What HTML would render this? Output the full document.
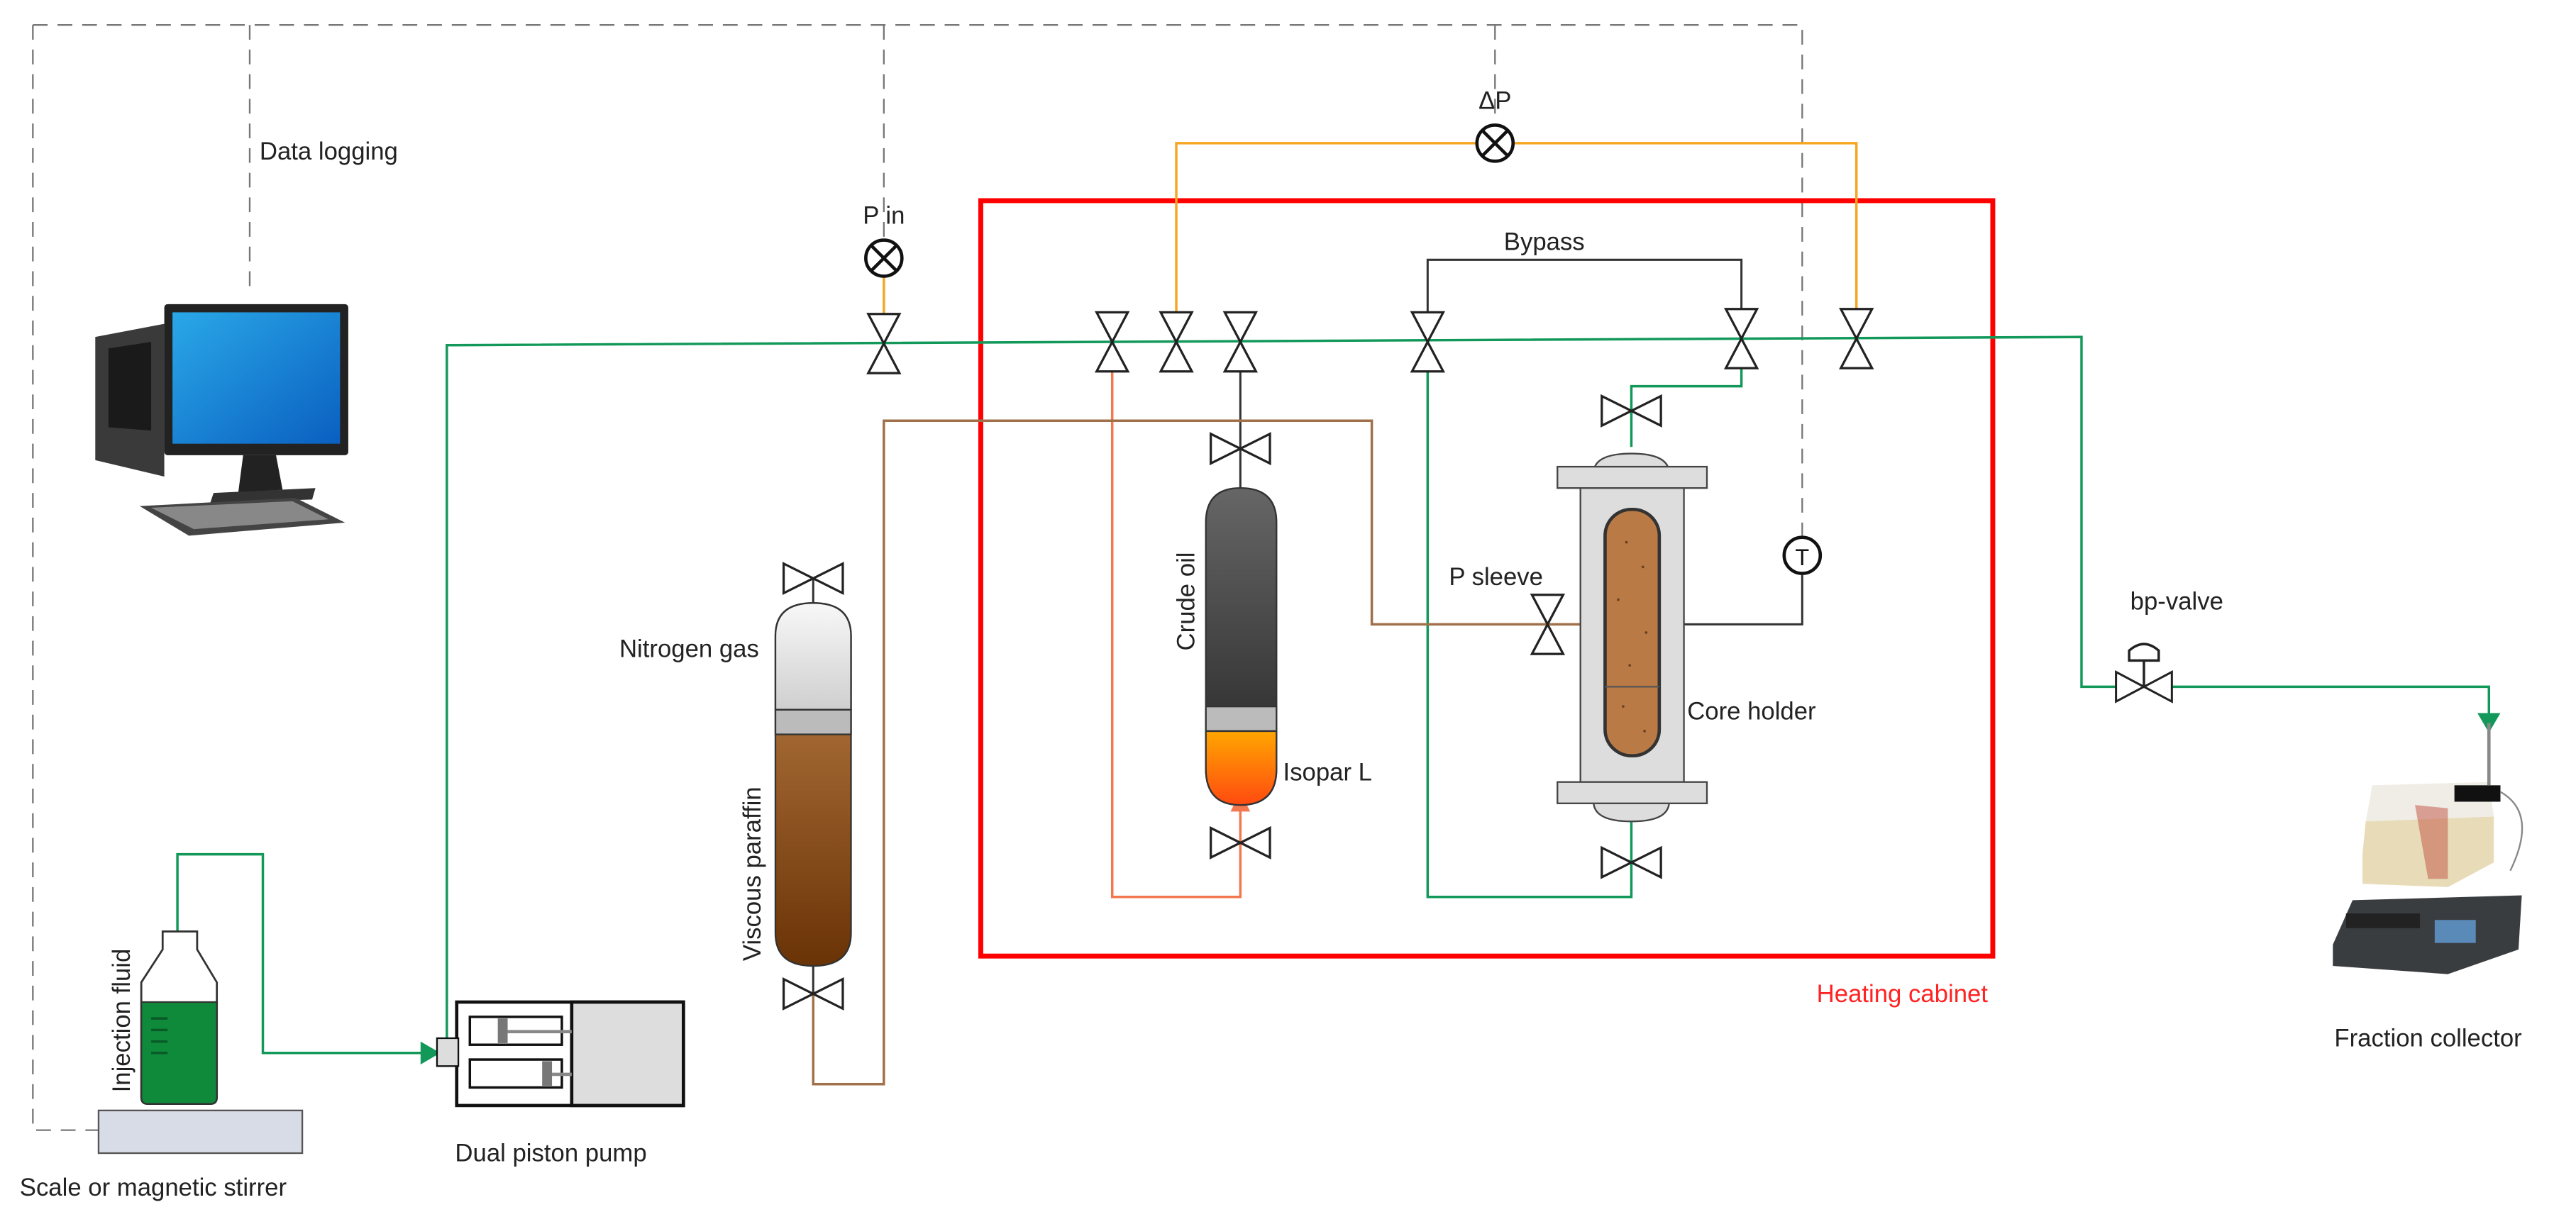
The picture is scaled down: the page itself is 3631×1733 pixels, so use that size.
<!DOCTYPE html>
<html><head><meta charset="utf-8"><style>html,body{margin:0;padding:0;background:#fff}svg{display:block}</style></head>
<body>
<svg width="3631" height="1733" viewBox="0 0 1568 748" xmlns="http://www.w3.org/2000/svg" font-family="Liberation Sans, sans-serif" font-size="15">
<defs>
<linearGradient id="dark" x1="0" y1="0" x2="0" y2="1"><stop offset="0" stop-color="#666"/><stop offset="1" stop-color="#222"/></linearGradient>
<linearGradient id="iso" x1="0" y1="0" x2="0" y2="1"><stop offset="0" stop-color="#ffa600"/><stop offset="1" stop-color="#ff4a10"/></linearGradient>
<linearGradient id="gas" x1="0" y1="0" x2="0" y2="1"><stop offset="0" stop-color="#f8f8f8"/><stop offset="1" stop-color="#cfcfcf"/></linearGradient>
<linearGradient id="par" x1="0" y1="0" x2="0" y2="1"><stop offset="0" stop-color="#c0834a"/><stop offset="1" stop-color="#6a3306"/></linearGradient>
<linearGradient id="scr" x1="0" y1="0" x2="1" y2="1"><stop offset="0" stop-color="#2aa8e8"/><stop offset="1" stop-color="#0a5fc0"/></linearGradient>
<g id="vv"><path d="M-9.5,-18 L9.5,-18 L0,0 Z M-9.5,18 L9.5,18 L0,0 Z" fill="#fff" stroke="#222" stroke-width="1.4"/></g>
<g id="vh"><path d="M-18,-9 L-18,9 L0,0 Z M18,-9 L18,9 L0,0 Z" fill="#fff" stroke="#222" stroke-width="1.4"/></g>
</defs>

<g stroke="#777" stroke-width="1" fill="none" stroke-dasharray="9,6">
<path d="M20,15 H1097 V326"/><path d="M20,15 V688 H60"/>
<path d="M152,15 V180"/><path d="M538,15 V145"/><path d="M910,15 V75"/>
</g>
<text x="158" y="97" fill="#222">Data logging</text>

<g>
<path d="M58,205 L100,197 L100,290 L58,280 Z" fill="#3a3a3a"/>
<path d="M66,212 L92,208 L92,262 L66,260 Z" fill="#1a1a1a"/>
<rect x="100" y="185" width="112" height="92" fill="#222" rx="2"/>
<rect x="105" y="190" width="102" height="80" fill="url(#scr)"/>
<path d="M148,277 L168,277 L172,298 L145,300 Z" fill="#222"/>
<path d="M130,300 L192,297 L190,304 L128,306 Z" fill="#333"/>
<path d="M85,308 L180,303 L210,318 L115,326 Z" fill="#444"/>
<path d="M92,309 L178,305 L200,316 L118,322 Z" fill="#888"/>
</g>

<rect x="597" y="122" width="616" height="460" fill="none" stroke="#f00" stroke-width="3"/>
<text x="1210" y="610" fill="#f22" text-anchor="end">Heating cabinet</text>

<g stroke="#12995a" stroke-width="1.5" fill="none">
<path d="M272,640 V210 L869,207 L1267,205 V418 H1515 V436"/>
<path d="M869,207 V546 H993 V498"/>
<path d="M1060,207 V235 H993 V272"/>
<path d="M108,574 V520 H160 V641 H262"/>
</g>
<path d="M1508,434 L1522,434 L1515,446 Z" fill="#12995a"/>
<path d="M256,634 L268,641 L256,648 Z" fill="#12995a"/>
<path d="M987,500 L999,500 L993,490 Z" fill="#12995a"/>
<g stroke="#f5a623" stroke-width="1.5" fill="none"><path d="M716,190 V87 H1130 V190"/><path d="M538,168 V191"/></g>
<path d="M677,215 V546 H755 V492" stroke="#f37850" stroke-width="1.5" fill="none"/>
<path d="M749,494 L761,494 L755,482 Z" fill="#f37850"/>
<g stroke="#333" stroke-width="1.3" fill="none">
<path d="M869,190 V158 H1060 V190"/><path d="M755,215 V298"/>
<path d="M1025,380 H1097 V350"/><path d="M495,352 V368"/><path d="M495,588 V605"/>
</g>
<path d="M495,605 V660 H538 V256 H835 V380 H962" stroke="#a0704a" stroke-width="1.5" fill="none"/>

<text x="940" y="152" fill="#222" text-anchor="middle">Bypass</text>

<g fill="#fff" stroke="#111" stroke-width="2">
<circle cx="538" cy="157" r="11"/><circle cx="910" cy="87" r="11"/>
</g>
<g stroke="#111" stroke-width="2"><path d="M530,149 L546,165 M546,149 L530,165 M902,79 L918,95 M918,79 L902,95"/></g>
<text x="538" y="136" text-anchor="middle" fill="#222">P in</text>
<text x="910" y="66" text-anchor="middle" fill="#222">ΔP</text>
<circle cx="1097" cy="338" r="11" fill="#fff" stroke="#111" stroke-width="2"/>
<text x="1097" y="344" text-anchor="middle" font-size="14" fill="#111">T</text>

<use href="#vv" x="538" y="209"/><use href="#vv" x="677" y="208"/><use href="#vv" x="716" y="208"/><use href="#vv" x="755" y="208"/>
<use href="#vv" x="869" y="208"/><use href="#vv" x="1060" y="206"/><use href="#vv" x="1130" y="206"/>
<use href="#vv" x="942" y="380"/>
<use href="#vh" x="755" y="273"/><use href="#vh" x="755" y="513"/><use href="#vh" x="993" y="250"/><use href="#vh" x="993" y="525"/>
<use href="#vh" x="495" y="352"/><use href="#vh" x="495" y="605"/>

<path d="M734,318 Q734,297 755,297 Q777,297 777,318 V468 Q777,490 755,490 Q734,490 734,468 Z" fill="url(#dark)" stroke="#333"/>
<rect x="734" y="430" width="43" height="15" fill="#bbb" stroke="#333"/>
<path d="M734,445 H777 V468 Q777,490 755,490 Q734,490 734,468 Z" fill="url(#iso)" stroke="#333"/>
<text transform="translate(727,396) rotate(-90)" fill="#222">Crude oil</text>
<text x="781" y="475" fill="#222">Isopar L</text>

<path d="M970,288 Q970,276 993,276 Q1016,276 1016,288 Z" fill="#ddd" stroke="#444"/>
<path d="M970,488 Q970,500 993,500 Q1016,500 1016,488 Z" fill="#ddd" stroke="#444"/>
<rect x="962" y="296" width="63" height="180" fill="#ddd" stroke="#444"/>
<rect x="948" y="284" width="91" height="13" fill="#ddd" stroke="#444"/>
<rect x="948" y="476" width="91" height="13" fill="#ddd" stroke="#444"/>
<rect x="977" y="310" width="33" height="150" rx="16" fill="#b97a45" stroke="#333" stroke-width="2"/>
<line x1="977" y1="418" x2="1010" y2="418" stroke="#555"/>
<g fill="#6a4020"><circle cx="990" cy="330" r="0.8"/><circle cx="1000" cy="345" r="0.8"/><circle cx="985" cy="365" r="0.8"/><circle cx="1002" cy="385" r="0.8"/><circle cx="992" cy="405" r="0.8"/><circle cx="988" cy="430" r="0.8"/><circle cx="1001" cy="445" r="0.8"/></g>
<text x="1027" y="438" fill="#222">Core holder</text>
<text x="882" y="356" fill="#222">P sleeve</text>

<path d="M472,387 Q472,367 495,367 Q518,367 518,387 V568 Q518,588 495,588 Q472,588 472,568 Z" fill="url(#par)" stroke="#333"/>
<path d="M472,387 Q472,367 495,367 Q518,367 518,387 V432 H472 Z" fill="url(#gas)" stroke="#333"/>
<rect x="472" y="432" width="46" height="15" fill="#bbb" stroke="#333"/>
<text x="462" y="400" text-anchor="end" fill="#222">Nitrogen gas</text>
<text transform="translate(463,585) rotate(-90)" fill="#222">Viscous paraffin</text>

<rect x="278" y="610" width="138" height="63" fill="#fff" stroke="#111" stroke-width="2"/>
<rect x="348" y="610" width="68" height="63" fill="#ddd" stroke="#111" stroke-width="2"/>
<rect x="266" y="632" width="13" height="17" fill="#ddd" stroke="#111"/>
<rect x="286" y="619" width="56" height="17" fill="#fff" stroke="#111" stroke-width="1.5"/>
<rect x="286" y="645" width="56" height="17" fill="#fff" stroke="#111" stroke-width="1.5"/>
<rect x="303" y="620" width="6" height="15" fill="#777"/><rect x="330" y="646" width="6" height="15" fill="#777"/>
<path d="M309,628 H348 M336,654 H348" stroke="#888" stroke-width="2"/>
<text x="277" y="707" fill="#222">Dual piston pump</text>

<rect x="60" y="676" width="124" height="26" fill="#d8dce6" stroke="#555"/>
<path d="M99,567 H120 V578 L132,598 V668 Q132,672 128,672 H90 Q86,672 86,668 V598 L99,578 Z" fill="#fff" stroke="#333" stroke-width="1.2"/>
<path d="M86,610 H132 V668 Q132,672 128,672 H90 Q86,672 86,668 Z" fill="#0f8a3a" stroke="#333"/>
<path d="M92,620 H102 M92,627 H102 M92,634 H102 M92,641 H102" stroke="#0a5a28" stroke-width="1.5"/>
<text transform="translate(79,665) rotate(-90)" fill="#222">Injection fluid</text>
<text x="12" y="728" fill="#222">Scale or magnetic stirrer</text>

<path d="M1288,409 L1288,427 L1305,418 Z M1322,409 L1322,427 L1305,418 Z" fill="#fff" stroke="#222" stroke-width="1.3"/>
<path d="M1305,418 V402" stroke="#222" stroke-width="1.5"/>
<path d="M1296,402 V396 Q1305,388 1314,396 V402 Z" fill="#fff" stroke="#222" stroke-width="1.5"/>
<text x="1325" y="371" text-anchor="middle" fill="#222">bp-valve</text>

<g>
<path d="M1420,575 L1432,548 L1535,545 L1533,578 L1490,593 L1420,588 Z" fill="#3a3d40"/>
<rect x="1428" y="556" width="45" height="9" fill="#222"/>
<rect x="1482" y="560" width="25" height="14" fill="#5a8ab8"/>
<path d="M1438,520 L1440,500 L1518,497 L1518,525 L1490,540 L1438,538 Z" fill="#e8dcb8"/>
<path d="M1440,500 L1444,478 L1515,476 L1518,497 Z" fill="#ece8e0" opacity="0.8"/>
<path d="M1470,490 L1490,492 L1490,535 L1478,535 Z" fill="#c05040" opacity="0.5"/>
<rect x="1494" y="478" width="28" height="10" fill="#111"/>
<path d="M1515,440 V478" stroke="#888" stroke-width="2"/>
<path d="M1522,482 Q1545,495 1528,530" stroke="#888" fill="none"/>
</g>
<text x="1478" y="637" text-anchor="middle" fill="#222">Fraction collector</text>
</svg>
</body></html>
